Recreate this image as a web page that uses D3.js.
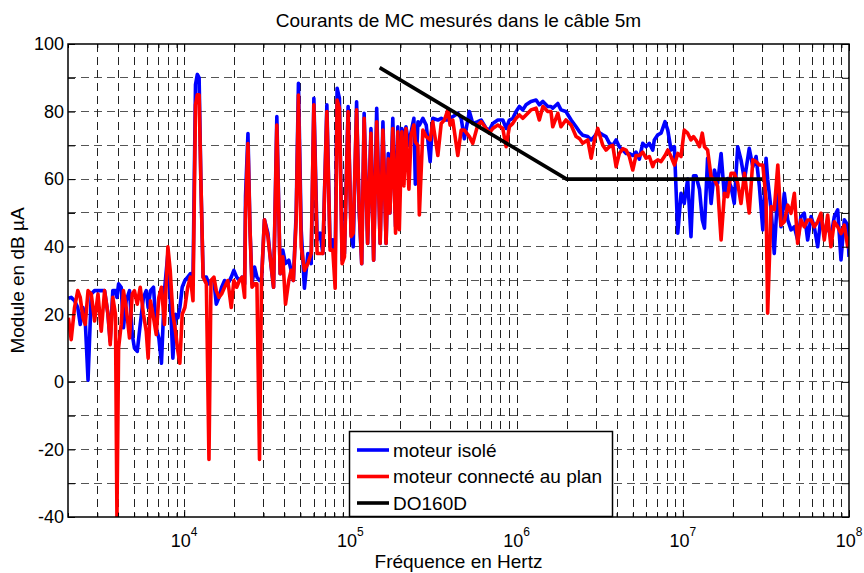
<!DOCTYPE html>
<html><head><meta charset="utf-8">
<script src="https://cdn.jsdelivr.net/npm/d3@7"></script>
<style>body{margin:0;background:#fff} text{font-family:Arial,"Liberation Sans",Helvetica,sans-serif;fill:#000}</style>
</head><body><svg id="c" width="864" height="573"></svg>
<script>
const freqHz = [2010,2090,2190,2290,2370,2460,2540,2640,2760,2890,3030,3170,3320,3480,3590,3720,3860,3940,4030,4180,4310,4480,4690,4870,5020,5220,5440,5690,5910,6070,6270,6540,6790,7040,7300,7610,7980,8240,8550,8870,9170,9420,9730,
10100,10500,10900,11300,11700,12000,12300,12600,13000,13600,14100,14500,15100,15600,16200,16800,17500,18300,19200,19900,20700,21500,22300,23100,23400,24200,24900,25600,26500,27400,28400,29200,30400,31900,33400,34500,36100,37800,39200,40700,42600,44000,45400,47200,48700,50600,52900,55500,58100,60300,63100,65800,68300,72200,75500,78400,81000,83200,85900,89200,92100,96900,
101000,104000,109000,113000,117000,121000,127000,133000,138000,144000,151000,157000,164000,169000,173000,180000,187000,193000,197000,204000,210000,216000,225000,232000,241000,246000,255000,260000,273000,286000,302000,313000,336000,352000,368000,386000,398000,413000,443000,464000,485000,520000,545000,584000,612000,656000,686000,719000,771000,826000,865000,905000,949000,993000,
1040000,1090000,1140000,1220000,1310000,1370000,1440000,1540000,1610000,1650000,1770000,1850000,1980000,2130000,2280000,2390000,2500000,2680000,2810000,2940000,3080000,3300000,3450000,3620000,3790000,3970000,4150000,4350000,4560000,4770000,5000000,5230000,5480000,5740000,6010000,6290000,6600000,6740000,7070000,7400000,7820000,8120000,8500000,8900000,9330000,9760000,
10200000,10700000,11200000,11600000,12000000,12600000,13100000,13500000,14100000,14800000,15500000,16200000,17000000,17800000,18600000,19500000,20400000,21400000,22400000,23500000,25100000,26400000,27600000,28900000,30300000,31700000,32400000,34000000,35500000,37300000,39000000,40800000,42800000,44800000,46900000,49100000,51400000,53800000,56400000,59100000,61800000,64800000,67800000,71000000,74400000,77900000,81600000,85500000,89500000,93700000,98200000,100000000];

const moteurIsole = [24.7,25,24,22,17,22,18,0.5,26,27,27,27,27,20,12,27,27,25,29,28,16,24,27,14,10,9,17,25,27,22,27,28,16,13,5.5,27,38,25,7,20,19,22,28,
30,31,32,30,88,91,90,60,31,31,29,30,30,23,25,28,30,29,31,33,31,30,31,29,55,73.5,45,29,34,31,30,30,48,44,34,28,78.5,32,39,35,36,33,30,50,88.4,45,27.7,38,35,83.9,42,44,38,82,40,42,36,86.9,84,36,38,81.5,
44,40,82.9,50,35,79.5,41,75,36,81,41,77,41,67.6,50,78,46,75.5,55,75,71,75.5,70,74,78,58.5,77,76,78,76,65.2,78,77.5,78,77.5,77.5,78,78.5,79.5,78,72,80,76.5,77,77.5,75,74.5,76.5,77.5,77.5,75,77.5,78,80,
81.5,80.5,82,83,83.4,82,83,81.5,81.5,81,82.4,80.5,80,77.5,75.5,74,73,72.6,71.6,72.6,74,73.1,72.6,70.6,70,71.6,69.6,68.6,67.6,67.6,67,68,65.9,70.6,69.6,70.6,68.6,71.6,73.1,73.6,77,74.5,68.6,69.6,44,55.8,
52.8,60,43,61,61,57,48,45.5,66.2,52.8,62.7,58.8,67.6,55,60.2,57.8,52.8,69.6,65.7,59.8,69.1,63.7,66.7,57.8,45,66.2,60,50.9,38,56.8,45.9,55.8,47.9,45,45.9,42,48.9,49.9,42,48.9,45.9,40,48.9,44,45.9,43,48.9,50.9,36.1,48,46.4,37];

const moteurConnecte = [19,12.5,22,27,25,19,17,27,26,18,26,15,27,20,11,25,20,-40,10,17,27,22,13,26,27,23,28,20,15,7,24,19,14,25,28,17,40,33,20,15,9,5.5,20,
22,28,31,24,82,85,85,60,31,29,-23,30,31,27,25,26,28,30,22,30,28,30,31,25,50,70.5,45,28,29,29,-23,30,48,43,34,28,76,32,37,23,30,33,30,48,84.9,40,33,35,38,82,38,38,38,80,39,39,27.7,83.4,81,35,37,80,
43,44,80.5,51,35,78,41,73.6,36,77,41,74.5,41,66,50,75,44,74,45,74,58,75,57,73,76,71,70,49.4,74.5,72.6,71.6,77,67,76.5,77.5,80.5,76,77.5,67,74.5,74.5,72.6,70.6,76,77,75,73.6,75,76,75,69.6,75.5,76.5,78,
79,78,79,80.5,81,77.5,81.5,80,80,75.5,79.5,75.5,77.5,76,72.6,72,70.6,71.6,66.2,71.6,75,70,68.6,69.6,70,63.7,67.6,69,68.6,66.7,62.7,67,67,68,66.2,66.7,63.7,65,65.7,65.2,67,68.6,66.7,64.2,67.6,66.7,
74.5,73.6,71.6,72.6,71.6,69.6,73.6,69.6,68.6,60.7,59.8,57.8,42,55.8,54.8,61.7,61.7,58.8,52.8,61.7,50,65.7,65.2,64.2,64.2,54,20.3,51.9,50.9,64.2,46.4,47.4,52.3,49.9,55.8,41,47.9,45.9,47.9,47.9,45.9,47.4,49.9,42,49.4,40,47.4,45.9,43.9,46.4,40,43];

const do160Freq = [150000, 2000000, 30000000];
const do160Db = [93, 60, 60];

const yTickValues = [-40,-20,0,20,40,60,80,100];
const yGridValues = [-30,-20,-10,0,10,20,30,40,50,60,70,80,90];
const xDecades = [1e4,1e5,1e6,1e7,1e8];
const seriesNames = ["moteur isolé","moteur connecté au plan","DO160D"];
const seriesColors = ["#0000ff","#ff0000","#000000"];

const svg = d3.select("#c");
const L=68,R=849,T=44,B=517;
const x = d3.scaleLog().domain([2000,1e8]).range([L,R]);
const y = d3.scaleLinear().domain([-40,100]).range([B,T]);

const xMinor = [];
for (let k=3;k<=7;k++) for (let m=1;m<=9;m++){ const v=m*Math.pow(10,k); if(v>=2000&&v<=1e8) xMinor.push(v); }
xMinor.push(1e8);
const xMinorOnly = xMinor.filter(v=>!xDecades.includes(v));

svg.append("rect").attr("x",0).attr("y",0).attr("width",864).attr("height",573).attr("fill","#fff");

const grid = svg.append("g");
grid.selectAll("line.h").data(yGridValues).join("line")
  .attr("x1",L).attr("x2",R).attr("y1",d=>y(d)).attr("y2",d=>y(d))
  .attr("stroke","#555").attr("stroke-width",1).attr("stroke-dasharray","8,5").attr("shape-rendering","crispEdges");
grid.selectAll("line.v").data(xMinor.filter(v=>v>2000&&v<1e8)).join("line")
  .attr("x1",d=>Math.round(x(d))+0.5).attr("x2",d=>Math.round(x(d))+0.5).attr("y1",T).attr("y2",B)
  .attr("stroke","#222").attr("stroke-width",1).attr("stroke-dasharray","8,5");

svg.append("defs").append("clipPath").attr("id","clip").append("rect")
  .attr("x",L).attr("y",T).attr("width",R-L).attr("height",B-T);

const line = d3.line().x(d=>x(d[0])).y(d=>y(d[1]));
const plot = svg.append("g").attr("clip-path","url(#clip)");
plot.append("path").datum(freqHz.map((f,i)=>[f,moteurIsole[i]]))
  .attr("d",line).attr("fill","none").attr("stroke",seriesColors[0]).attr("stroke-width",3.6).attr("stroke-linejoin","round");
plot.append("path").datum(freqHz.map((f,i)=>[f,moteurConnecte[i]]))
  .attr("d",line).attr("fill","none").attr("stroke",seriesColors[1]).attr("stroke-width",3.6).attr("stroke-linejoin","round");
plot.append("path").datum(do160Freq.map((f,i)=>[f,do160Db[i]]))
  .attr("d",line).attr("fill","none").attr("stroke",seriesColors[2]).attr("stroke-width",3.6).attr("stroke-linejoin","round");

function styleAxis(g){ g.select(".domain").remove(); g.selectAll("line").attr("stroke","#000"); }
svg.append("g").attr("transform",`translate(0,${B})`).call(d3.axisBottom(x).tickValues(xDecades).tickSize(-7).tickFormat("")).call(styleAxis);
svg.append("g").attr("transform",`translate(0,${B})`).call(d3.axisBottom(x).tickValues(xMinorOnly).tickSize(-4).tickFormat("")).call(styleAxis);
svg.append("g").attr("transform",`translate(0,${T})`).call(d3.axisTop(x).tickValues(xDecades).tickSize(-7).tickFormat("")).call(styleAxis);
svg.append("g").attr("transform",`translate(0,${T})`).call(d3.axisTop(x).tickValues(xMinorOnly).tickSize(-4).tickFormat("")).call(styleAxis);
svg.append("g").attr("transform",`translate(${L},0)`).call(d3.axisLeft(y).tickValues(yGridValues.concat([-40,100])).tickSize(-7).tickFormat("")).call(styleAxis);
svg.append("g").attr("transform",`translate(${R},0)`).call(d3.axisRight(y).tickValues(yGridValues.concat([-40,100])).tickSize(-7).tickFormat("")).call(styleAxis);

svg.append("rect").attr("x",L).attr("y",T).attr("width",R-L).attr("height",B-T)
  .attr("fill","none").attr("stroke","#000").attr("stroke-width",1.5);

svg.selectAll("text.yl").data(yTickValues).join("text")
  .attr("x",L-4).attr("y",d=>y(d)).attr("dy","0.35em").attr("text-anchor","end").attr("font-size",18).text(d=>d);
const xl = svg.selectAll("text.xl").data(xDecades).join("text")
  .attr("x",d=>x(d)).attr("y",547).attr("text-anchor","middle").attr("font-size",18);
xl.append("tspan").text("10");
xl.append("tspan").attr("dy",-11).attr("font-size",12).text(d=>Math.round(Math.log10(d)));

svg.append("text").attr("x",(L+R)/2).attr("y",27).attr("text-anchor","middle").attr("font-size",19).text("Courants de MC mesurés dans le câble 5m");
svg.append("text").attr("x",(L+R)/2).attr("y",568).attr("text-anchor","middle").attr("font-size",19).text("Fréquence en Hertz");
svg.append("text").attr("transform",`translate(24,${(T+B)/2}) rotate(-90)`).attr("text-anchor","middle").attr("font-size",19).text("Module en dB µA");

const lg = svg.append("g");
lg.append("rect").attr("x",349.5).attr("y",431.5).attr("width",263).attr("height",85).attr("fill","#fff").attr("stroke","#000").attr("stroke-width",1.5);
seriesNames.forEach((n,i)=>{
  const yy = 450 + i*26.5;
  lg.append("line").attr("x1",357).attr("x2",389).attr("y1",yy).attr("y2",yy).attr("stroke",seriesColors[i]).attr("stroke-width",3.6);
  lg.append("text").attr("x",393).attr("y",yy).attr("dy","0.35em").attr("font-size",19).text(n);
});
</script></body></html>
